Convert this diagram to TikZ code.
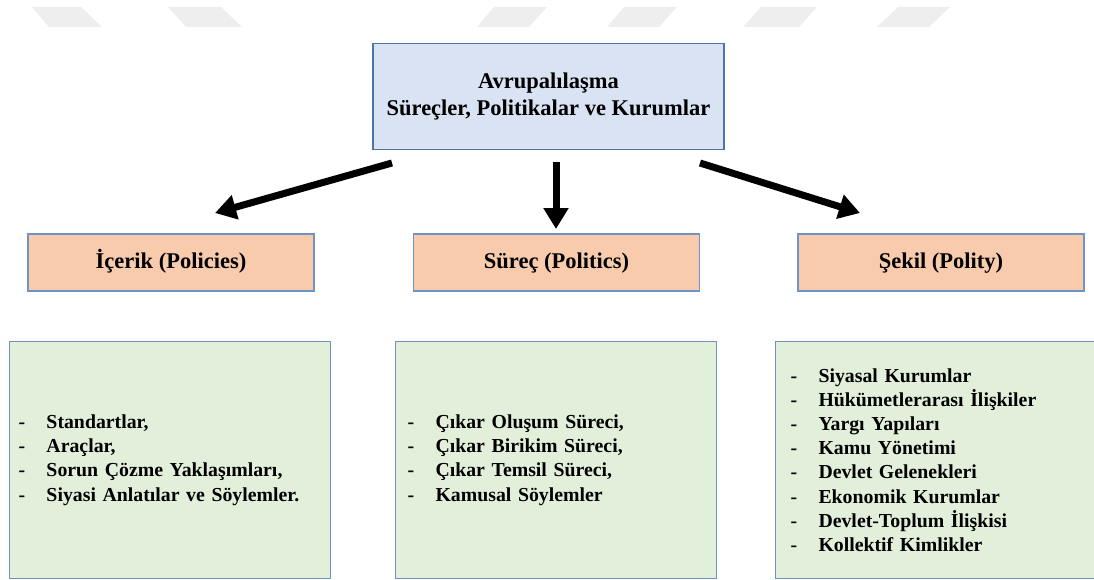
\documentclass[tikz,border=0pt]{standalone}
\usepackage{fontspec}
\setmainfont{Liberation Serif}
\usetikzlibrary{arrows.meta,positioning}

\definecolor{topfill}{HTML}{DAE3F3}
\definecolor{topline}{HTML}{4F74A8}
\definecolor{headfill}{HTML}{F8CBAD}
\definecolor{boxline}{HTML}{7193C4}
\definecolor{listfill}{HTML}{E2EFDA}
\definecolor{wmark}{HTML}{EEEEEE}

\tikzset{
  mainbox/.style={draw=topline, fill=topfill, line width=1.2pt, minimum width=351pt,
    minimum height=106pt, align=center, font=\fontsize{22.5}{26.5}\selectfont\bfseries},
  headbox/.style={draw=boxline, fill=headfill, line width=1.2pt, minimum width=286pt,
    minimum height=57pt, text height=16pt, text depth=5pt,
    font=\fontsize{22.5}{26}\selectfont\bfseries},
  listbox/.style={draw=boxline, fill=listfill, line width=1pt, anchor=north west,
    minimum height=237pt, align=left, font=\fontsize{19.8}{24.2}\selectfont\bfseries},
  bigarrow/.style={line width=7pt, -{Triangle[width=24pt,length=21pt]}}
}
\newcommand{\itm}[1]{\makebox[28pt][l]{-}#1}

\begin{document}
\begin{tikzpicture}[x=1pt,y=-1pt]
    \useasboundingbox (0,0) rectangle (1094,580);
    \clip (0,0) rectangle (1094,580);
    % faint marks along the top
    \fill[wmark] (32,7) -- (81,7) -- (102,27) -- (49,27) -- cycle;
    \fill[wmark] (168,7) -- (221,7) -- (242,27) -- (186,27) -- cycle;
    \fill[wmark] (494,7) -- (547,7) -- (529,27) -- (477,27) -- cycle;
    \fill[wmark] (624,7) -- (677,7) -- (659,27) -- (607,27) -- cycle;
    \fill[wmark] (761,7) -- (817,7) -- (799,27) -- (743,27) -- cycle;
    \fill[wmark] (898,7) -- (950,7) -- (929,27) -- (877,27) -- cycle;

    \node[mainbox] (top) at (548.5,96.5) {Avrupalılaşma\\Süreçler, Politikalar ve Kurumlar};

    \node[headbox] (icerik) at (171,262.5) {İçerik (Policies)};
    \node[headbox] (surec) at (556.5,262.5) {Süreç (Politics)};
    \node[headbox] (sekil) at (941,262.5) {Şekil (Polity)};

    \coordinate (a1) at (392,163);
    \coordinate (b1) at (215,213);
    \coordinate (a2) at (556,162);
    \coordinate (b2) at (556,229);
    \coordinate (a3) at (700,163);
    \coordinate (b3) at (860,213);
    \draw[bigarrow] (a1) -- (b1);
    \draw[bigarrow] (a2) -- (b2);
    \draw[bigarrow] (a3) -- (b3);

    \node[listbox, minimum width=321pt, inner xsep=9pt, text width=303pt] (pol) at (9,341)
        {\itm{Standartlar,}\\ \itm{Araçlar,}\\ \itm{Sorun Çözme Yaklaşımları,}\\
         \itm{Siyasi Anlatılar ve Söylemler.}};
    \node[listbox, minimum width=321pt, inner xsep=12pt, text width=297pt] (proc) at (395,341)
        {\itm{Çıkar Oluşum Süreci,}\\ \itm{Çıkar Birikim Süreci,}\\ \itm{Çıkar Temsil Süreci,}\\
         \itm{Kamusal Söylemler}};
    \node[listbox, minimum width=330pt, inner xsep=15pt, text width=300pt] (form) at (775,341)
        {\itm{Siyasal Kurumlar}\\ \itm{Hükümetlerarası İlişkiler}\\ \itm{Yargı Yapıları}\\
         \itm{Kamu Yönetimi}\\ \itm{Devlet Gelenekleri}\\ \itm{Ekonomik Kurumlar}\\
         \itm{Devlet-Toplum İlişkisi}\\ \itm{Kollektif Kimlikler}};
\end{tikzpicture}
\end{document}
